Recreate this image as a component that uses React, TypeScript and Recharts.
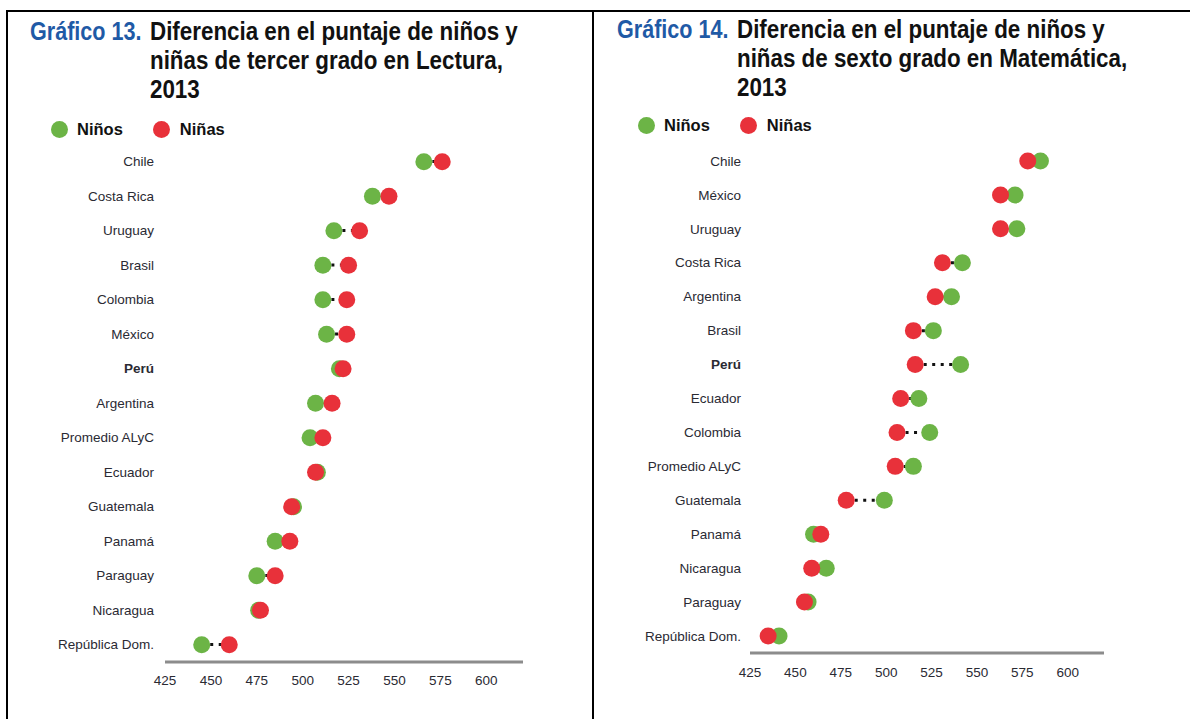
import React from "react";
import { ComposedChart, Bar, Line, XAxis, YAxis } from "recharts";

const paises13 = ["Chile", "Costa Rica", "Uruguay", "Brasil", "Colombia", "México", "Perú", "Argentina", "Promedio ALyC", "Ecuador", "Guatemala", "Panamá", "Paraguay", "Nicaragua", "República Dom."];
const ninos13 = [566, 538, 517, 511, 511, 513, 520, 507, 504, 508, 495, 485, 475, 476, 445];
const ninas13 = [576, 547, 531, 525, 524, 524, 522, 516, 511, 507, 494, 493, 485, 477, 460];

const paises14 = ["Chile", "México", "Uruguay", "Costa Rica", "Argentina", "Brasil", "Perú", "Ecuador", "Colombia", "Promedio ALyC", "Guatemala", "Panamá", "Nicaragua", "Paraguay", "República Dom."];
const ninos14 = [585, 571, 572, 542, 536, 526, 541, 518, 524, 515, 499, 460, 467, 457, 441];
const ninas14 = [578, 563, 563, 531, 527, 515, 516, 508, 506, 505, 478, 464, 459, 455, 435];

const xTicks = [425, 450, 475, 500, 525, 550, 575, 600];

const VERDE = "#6cb446";
const ROJO = "#e8313a";
const AZUL = "#1f5aa6";
const FONT = "'Liberation Sans', Arial, sans-serif";

const buildRows = (paises: string[], ninos: number[], ninas: number[]) =>
	paises.map((pais, i) => ({
		pais,
		ninos: ninos[i],
		ninas: ninas[i],
		rango: [Math.min(ninos[i], ninas[i]), Math.max(ninos[i], ninas[i])],
	}));

const Conector = (props: any) => {
	const { x, y, width, height } = props;
	if (!width || width <= 0) return null;
	const cy = y + height / 2;
	return (
		<line x1={x} x2={x + width} y1={cy} y2={cy} stroke="#111" strokeWidth={3} strokeDasharray="3 5.5" />
	);
};

const PaisTick = (props: any) => {
	const { x, y, payload } = props;
	return (
		<text
			x={x}
			y={y}
			dy="0.35em"
			textAnchor="end"
			fontFamily={FONT}
			fontSize={13.5}
			fill="#2a2a33"
			fontWeight={payload.value === "Perú" ? "bold" : "normal"}
		>
			{payload.value}
		</text>
	);
};

type ChartProps = {
	rows: ReturnType<typeof buildRows>;
	left: number;
	yWidth: number;
	margin: { top: number; right: number; bottom: number; left: number };
	labelGap: number;
	tickGap: number;
};

const Dumbbell = ({ rows, left, yWidth, margin, labelGap, tickGap }: ChartProps) => (
	<div style={{ position: "absolute", left, top: 0 }}>
		<ComposedChart width={560} height={719} data={rows} layout="vertical" margin={margin}>
			<XAxis
				type="number"
				domain={[425, 620]}
				ticks={xTicks}
				height={30}
				axisLine={{ stroke: "#8c8c8c", strokeWidth: 3 }}
				tickLine={false}
				tickSize={0}
				tickMargin={tickGap}
				tick={{ fontSize: 13.5, fill: "#2a2a33", fontFamily: FONT }}
			/>
			<YAxis
				type="category"
				dataKey="pais"
				width={yWidth}
				axisLine={false}
				tickLine={false}
				tickSize={0}
				tickMargin={labelGap}
				tick={<PaisTick />}
				interval={0}
			/>
			<Bar dataKey="rango" barSize={4} shape={<Conector />} isAnimationActive={false} />
			<Line dataKey="ninos" stroke="none" dot={{ r: 8.5, fill: VERDE, stroke: "none" }} activeDot={false} isAnimationActive={false} />
			<Line dataKey="ninas" stroke="none" dot={{ r: 8.5, fill: ROJO, stroke: "none" }} activeDot={false} isAnimationActive={false} />
		</ComposedChart>
	</div>
);

const Titulo = ({ num, lineas, left, top, indent }: { num: string; lineas: string[]; left: number; top: number; indent: number }) => (
	<>
		<div
			style={{
				position: "absolute", left, top, fontFamily: FONT, fontWeight: "bold", fontSize: 26, lineHeight: "29px",
				color: AZUL, transform: "scaleX(0.83)", transformOrigin: "left top", whiteSpace: "nowrap",
			}}
		>
			{num}
		</div>
		<div
			style={{
				position: "absolute", left: left + indent, top, fontFamily: FONT, fontWeight: "bold", fontSize: 26, lineHeight: "29px",
				color: "#111", transform: "scaleX(0.86)", transformOrigin: "left top", whiteSpace: "nowrap",
			}}
		>
			{lineas.map((l) => (
				<div key={l}>{l}</div>
			))}
		</div>
	</>
);

const Leyenda = ({ left, top }: { left: number; top: number }) => (
	<div style={{ position: "absolute", left, top, display: "flex", alignItems: "center", fontFamily: FONT, fontWeight: "bold", fontSize: 16.5, color: "#111" }}>
		<span style={{ width: 17, height: 17, borderRadius: "50%", background: VERDE, display: "inline-block" }} />
		<span style={{ marginLeft: 9 }}>Niños</span>
		<span style={{ width: 17, height: 17, borderRadius: "50%", background: ROJO, display: "inline-block", marginLeft: 30 }} />
		<span style={{ marginLeft: 10 }}>Niñas</span>
	</div>
);

export default function App() {
	const rows13 = buildRows(paises13, ninos13, ninas13);
	const rows14 = buildRows(paises14, ninos14, ninas14);
	return (
		<div style={{ position: "absolute", left: 0, top: 0, width: 1190, height: 719, background: "#fff", overflow: "hidden" }}>
			<div style={{ position: "absolute", left: 6, top: 10, width: 1184, height: 2, background: "#000" }} />
			<div style={{ position: "absolute", left: 6, top: 10, width: 2, height: 709, background: "#000" }} />
			<div style={{ position: "absolute", left: 592, top: 10, width: 2, height: 709, background: "#000" }} />

			<Titulo
				num="Gráfico 13."
				lineas={["Diferencia en el puntaje de niños y", "niñas de tercer grado en Lectura,", "2013"]}
				left={30}
				top={17}
				indent={120}
			/>
			<Titulo
				num="Gráfico 14."
				lineas={["Diferencia en el puntaje de niños y", "niñas de sexto grado en Matemática,", "2013"]}
				left={617}
				top={15}
				indent={120}
			/>
			<Leyenda left={51} top={120} />
			<Leyenda left={638} top={116} />

			<Dumbbell rows={rows13} left={0} yWidth={165} margin={{ top: 144.5, right: 37, bottom: 27, left: 0 }} labelGap={11} tickGap={13} />
			<Dumbbell rows={rows14} left={595} yWidth={155} margin={{ top: 144, right: 51, bottom: 36, left: 0 }} labelGap={9} tickGap={14} />
		</div>
	);
}
